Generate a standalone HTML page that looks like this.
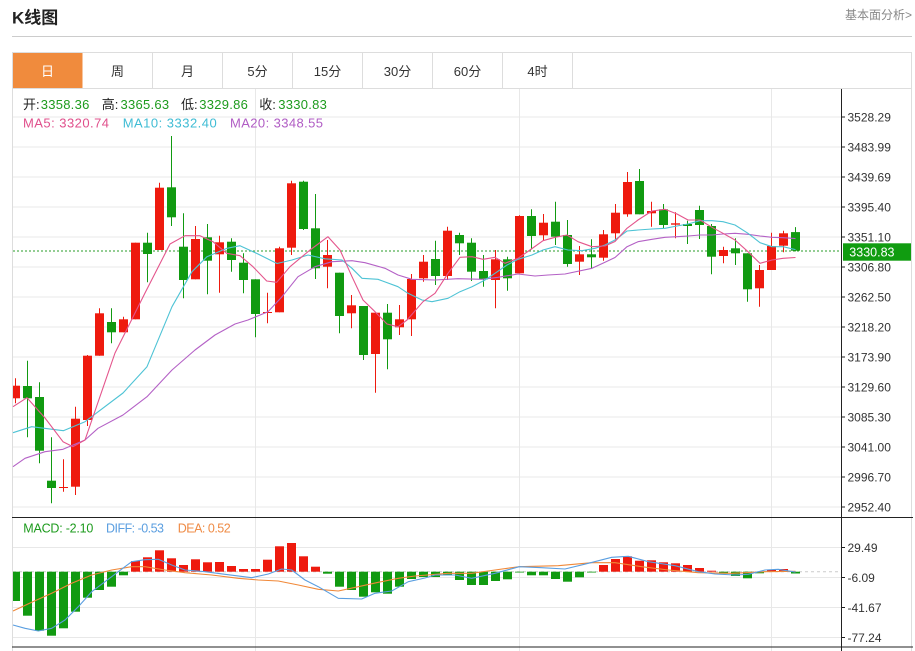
<!DOCTYPE html>
<html><head><meta charset="utf-8"><style>
html,body{margin:0;padding:0;background:#fff;width:915px;height:651px;overflow:hidden}
svg{display:block;font-family:"Liberation Sans","Noto Sans CJK SC",sans-serif}
</style></head><body>
<svg width="915" height="651" viewBox="0 0 915 651" xmlns="http://www.w3.org/2000/svg">
<rect width="915" height="651" fill="#fff"/>
<!-- header -->
<text x="12" y="23.5" font-size="17" font-weight="bold" fill="#222">K线图</text>
<text x="912" y="19" font-size="12" fill="#888" text-anchor="end">基本面分析&gt;</text>
<line x1="12" y1="36.5" x2="912" y2="36.5" stroke="#ccc"/>
<!-- tabs -->
<rect x="12.5" y="52.5" width="899" height="36" fill="#fff" stroke="#ddd"/>
<rect x="13" y="53" width="69.5" height="35" fill="#f08b3d"/>
<g stroke="#ddd">
<line x1="152.5" y1="53" x2="152.5" y2="88"/><line x1="222.5" y1="53" x2="222.5" y2="88"/>
<line x1="292.5" y1="53" x2="292.5" y2="88"/><line x1="362.5" y1="53" x2="362.5" y2="88"/>
<line x1="432.5" y1="53" x2="432.5" y2="88"/><line x1="502.5" y1="53" x2="502.5" y2="88"/>
<line x1="572.5" y1="53" x2="572.5" y2="88"/>
<line x1="12.5" y1="88" x2="12.5" y2="651"/><line x1="911.5" y1="88" x2="911.5" y2="651"/>
</g>
<g font-size="13" text-anchor="middle" fill="#333">
<text x="47.5" y="76" fill="#fff">日</text><text x="117.5" y="76">周</text><text x="187.5" y="76">月</text>
<text x="257.5" y="76">5分</text><text x="327.5" y="76">15分</text><text x="397.5" y="76">30分</text>
<text x="467.5" y="76">60分</text><text x="537.5" y="76">4时</text>
</g>
<!-- grid -->
<g stroke="#e8e8e8">
<line x1="13" y1="117" x2="841" y2="117"/><line x1="13" y1="147" x2="841" y2="147"/>
<line x1="13" y1="177" x2="841" y2="177"/><line x1="13" y1="207" x2="841" y2="207"/>
<line x1="13" y1="237" x2="841" y2="237"/><line x1="13" y1="267" x2="841" y2="267"/>
<line x1="13" y1="297" x2="841" y2="297"/><line x1="13" y1="327" x2="841" y2="327"/>
<line x1="13" y1="357" x2="841" y2="357"/><line x1="13" y1="387" x2="841" y2="387"/>
<line x1="13" y1="417" x2="841" y2="417"/><line x1="13" y1="447" x2="841" y2="447"/>
<line x1="13" y1="477" x2="841" y2="477"/><line x1="13" y1="507" x2="841" y2="507"/>
<line x1="13" y1="547.5" x2="841" y2="547.5"/><line x1="13" y1="577.5" x2="841" y2="577.5"/>
<line x1="13" y1="607.5" x2="841" y2="607.5"/><line x1="13" y1="637.5" x2="841" y2="637.5"/>
<line x1="255.5" y1="89" x2="255.5" y2="651"/><line x1="519.5" y1="89" x2="519.5" y2="651"/>
<line x1="771.5" y1="89" x2="771.5" y2="651"/>
</g>
<!-- price line -->
<line x1="13" y1="251" x2="841" y2="251" stroke="#2a9d2a" stroke-dasharray="2,2"/>
<!-- candles red -->
<g fill="#ee1a0e" stroke="#ee1a0e">
<g stroke-width="1">
<line x1="15.5" y1="378.3" x2="15.5" y2="403.3"/><line x1="63.5" y1="459.3" x2="63.5" y2="491.7"/>
<line x1="75.5" y1="406.7" x2="75.5" y2="495"/><line x1="87.5" y1="355" x2="87.5" y2="426"/>
<line x1="99.5" y1="308.3" x2="99.5" y2="355.7"/><line x1="123.5" y1="316.7" x2="123.5" y2="332.3"/>
<line x1="135.5" y1="242.7" x2="135.5" y2="319.3"/><line x1="159.5" y1="182.7" x2="159.5" y2="250"/>
<line x1="195.5" y1="226" x2="195.5" y2="279.3"/><line x1="219.5" y1="235.7" x2="219.5" y2="292.7"/>
<line x1="267.5" y1="292.7" x2="267.5" y2="323.3"/><line x1="279.5" y1="246.7" x2="279.5" y2="312.3"/>
<line x1="291.5" y1="180.7" x2="291.5" y2="255"/><line x1="327.5" y1="240" x2="327.5" y2="288.3"/>
<line x1="351.5" y1="295" x2="351.5" y2="328.3"/><line x1="375.5" y1="312.7" x2="375.5" y2="392.7"/>
<line x1="399.5" y1="305" x2="399.5" y2="335"/><line x1="411.5" y1="274" x2="411.5" y2="336"/>
<line x1="423.5" y1="255" x2="423.5" y2="281.7"/><line x1="447.5" y1="226.7" x2="447.5" y2="280"/>
<line x1="495.5" y1="250" x2="495.5" y2="308.3"/><line x1="519.5" y1="215.3" x2="519.5" y2="273.3"/>
<line x1="543.5" y1="214" x2="543.5" y2="240.7"/><line x1="579.5" y1="246" x2="579.5" y2="275"/>
<line x1="603.5" y1="230" x2="603.5" y2="260.7"/><line x1="615.5" y1="204" x2="615.5" y2="240.7"/>
<line x1="627.5" y1="172" x2="627.5" y2="216.7"/><line x1="651.5" y1="201.7" x2="651.5" y2="226.7"/>
<line x1="675.5" y1="212.3" x2="675.5" y2="238.3"/><line x1="723.5" y1="246.7" x2="723.5" y2="263.3"/>
<line x1="759.5" y1="265" x2="759.5" y2="306.7"/><line x1="771.5" y1="232.7" x2="771.5" y2="270"/>
<line x1="783.5" y1="230.7" x2="783.5" y2="252.3"/>
</g>
<g stroke="none">
<rect x="13" y="385.7" width="7" height="12.6"/><rect x="59" y="487" width="9" height="1"/>
<rect x="71" y="418.7" width="9" height="68"/><rect x="83" y="355.7" width="9" height="64.3"/>
<rect x="95" y="313.3" width="9" height="42.4"/><rect x="119" y="319.3" width="9" height="13"/>
<rect x="131" y="242.7" width="9" height="76.6"/><rect x="155" y="187.7" width="9" height="62.3"/>
<rect x="191" y="239" width="9" height="40.3"/><rect x="215" y="242.3" width="9" height="12"/>
<rect x="263" y="312" width="9" height="1"/><rect x="275" y="248.3" width="9" height="64"/>
<rect x="287" y="183.3" width="9" height="64.4"/><rect x="323" y="255" width="9" height="11.7"/>
<rect x="347" y="305.3" width="9" height="8"/><rect x="371" y="312.7" width="9" height="41.3"/>
<rect x="395" y="319.3" width="9" height="8"/><rect x="407" y="279" width="9" height="40.3"/>
<rect x="419" y="261.7" width="9" height="16.6"/><rect x="443" y="230.7" width="9" height="45.3"/>
<rect x="491" y="259.3" width="9" height="20.7"/><rect x="515" y="216" width="9" height="57.3"/>
<rect x="539" y="222.7" width="9" height="12.6"/><rect x="575" y="254.3" width="9" height="7.4"/>
<rect x="599" y="234.3" width="9" height="23.4"/><rect x="611" y="212.7" width="9" height="20.6"/>
<rect x="623" y="182" width="9" height="32.3"/><rect x="647" y="211" width="9" height="2.3"/>
<rect x="671" y="223.3" width="9" height="1.4"/><rect x="719" y="250" width="9" height="6"/>
<rect x="755" y="270" width="9" height="18.3"/><rect x="767" y="246" width="9" height="24"/>
<rect x="779" y="233.3" width="9" height="12.4"/>
</g>
</g>
<!-- candles green -->
<g fill="#119a11" stroke="#119a11">
<g>
<line x1="27.5" y1="360.7" x2="27.5" y2="437.3"/><line x1="39.5" y1="382.3" x2="39.5" y2="463.3"/>
<line x1="51.5" y1="437.3" x2="51.5" y2="503.3"/><line x1="111.5" y1="308.3" x2="111.5" y2="343.3"/>
<line x1="147.5" y1="232.7" x2="147.5" y2="282.3"/><line x1="171.5" y1="136" x2="171.5" y2="226"/>
<line x1="183.5" y1="213.3" x2="183.5" y2="298.3"/><line x1="207.5" y1="224" x2="207.5" y2="294.3"/>
<line x1="231.5" y1="238.3" x2="231.5" y2="271.7"/><line x1="243.5" y1="253.3" x2="243.5" y2="293.3"/>
<line x1="255.5" y1="279.3" x2="255.5" y2="337.3"/><line x1="303.5" y1="180.7" x2="303.5" y2="230"/>
<line x1="315.5" y1="194" x2="315.5" y2="279"/><line x1="339.5" y1="272.7" x2="339.5" y2="333.3"/>
<line x1="363.5" y1="306" x2="363.5" y2="360"/><line x1="387.5" y1="304" x2="387.5" y2="369.3"/>
<line x1="435.5" y1="240.7" x2="435.5" y2="285"/><line x1="459.5" y1="232.7" x2="459.5" y2="255"/>
<line x1="471.5" y1="238.3" x2="471.5" y2="281"/><line x1="483.5" y1="255" x2="483.5" y2="286.7"/>
<line x1="507.5" y1="256.7" x2="507.5" y2="290.7"/><line x1="531.5" y1="209.3" x2="531.5" y2="248.7"/>
<line x1="555.5" y1="201.7" x2="555.5" y2="245"/><line x1="567.5" y1="220" x2="567.5" y2="266.7"/>
<line x1="591.5" y1="239.3" x2="591.5" y2="268.3"/><line x1="639.5" y1="169" x2="639.5" y2="214.3"/>
<line x1="663.5" y1="204" x2="663.5" y2="228.3"/><line x1="687.5" y1="220.7" x2="687.5" y2="244"/>
<line x1="699.5" y1="205.7" x2="699.5" y2="239"/><line x1="711.5" y1="224" x2="711.5" y2="274.3"/>
<line x1="735.5" y1="238.3" x2="735.5" y2="265"/><line x1="747.5" y1="253.3" x2="747.5" y2="301.7"/>
<line x1="795.5" y1="227.1" x2="795.5" y2="251.4"/>
</g>
<g stroke="none">
<rect x="23" y="386" width="9" height="12.3"/><rect x="35" y="397" width="9" height="53.7"/>
<rect x="47" y="480.7" width="9" height="7.3"/><rect x="107" y="322" width="9" height="10.3"/>
<rect x="143" y="242.7" width="9" height="11.3"/><rect x="167" y="187.3" width="9" height="30"/>
<rect x="179" y="246.7" width="9" height="33.3"/><rect x="203" y="237.3" width="9" height="23.4"/>
<rect x="227" y="241.7" width="9" height="18.3"/><rect x="239" y="262.7" width="9" height="17.3"/>
<rect x="251" y="279.3" width="9" height="34.7"/><rect x="299" y="181.7" width="9" height="47.3"/>
<rect x="311" y="228.3" width="9" height="40"/><rect x="335" y="272.7" width="9" height="43.3"/>
<rect x="359" y="306" width="9" height="49"/><rect x="383" y="312.7" width="9" height="26.6"/>
<rect x="431" y="259" width="9" height="17"/><rect x="455" y="235" width="9" height="8.3"/>
<rect x="467" y="242.7" width="9" height="29"/><rect x="479" y="271" width="9" height="8.3"/>
<rect x="503" y="259.3" width="9" height="19"/><rect x="527" y="216" width="9" height="20"/>
<rect x="551" y="221.7" width="9" height="15"/><rect x="563" y="235" width="9" height="29"/>
<rect x="587" y="254.3" width="9" height="3"/><rect x="635" y="181" width="9" height="33.3"/>
<rect x="659" y="209.3" width="9" height="15.7"/><rect x="683" y="224" width="9" height="2"/>
<rect x="695" y="210" width="9" height="15"/><rect x="707" y="226" width="9" height="30.7"/>
<rect x="731" y="248.3" width="9" height="5"/><rect x="743" y="253.3" width="9" height="36"/>
<rect x="791" y="232.1" width="9" height="18.6"/>
</g>
</g>
<!-- MA lines -->
<g fill="none" stroke-width="1.1" stroke-linejoin="round">
<polyline stroke="#b461c6" points="13,466.7 25,458.3 45,451.7 63,449.3 85,440 98,428.3 123,415 147,396.7 172,370 195,350 215,335 235,324 248,320 268,311.7 282,296.7 298,276.7 315,266.7 332,261.7 352,260.7 365,262.7 385,268.3 398,275 412,279.3 435,280 458,278.7 482,279.3 498,277.3 518,274 535,276 548,275 565,274 592,268.3 605,262.2 615,257.5 627,246.7 638,241.7 652,239.3 665,237.3 677,236.7 688,236 700,235 712,235 723,234 735,233.3 748,234.3 760,236 772,237.3 783,237.7 795.5,238.6"/>
<polyline stroke="#4ec3d5" points="13,432.7 31.7,426.7 63.3,430.7 85,421.7 123,393 147,366.7 172,306.7 192,271.7 207,256.7 227,248.3 240,245.7 258,254 277,263.5 292,260 308,255 325,258.8 342,260 352,268.3 362,278.3 378,279.3 398,286.7 408,293.3 422,300 432,301.7 448,298.3 460,291.7 472,286.7 485,280 495,273.3 507,265 518,259.3 532,255 543,250 555,246.7 568,250 582,250.7 595,248.3 605,245 615,240 627,231 638,230 652,229 665,228.3 677,226 688,224 700,220.7 712,220.7 723,221.7 735,225 748,233.3 760,242.7 772,246.7 783,246.7 795.5,249.6"/>
<polyline stroke="#e4558c" points="13,406.7 27,397.7 45,418 63,441.7 73,446.7 85,440 115,353 145,293 170,244 185,235.7 200,235.7 213,241.7 226.7,253.3 240,255.7 253,266.7 266.7,281 276.7,282.3 290,266.7 310,250 328,236.7 340,250 352,276.7 363,300 375,311.7 387,324 398,326.7 407,320 423,301.7 435,293.3 448,273.3 460,257.3 472,256.7 483,259.3 495,257.3 505,263.3 518,258.3 530,250 543,240.7 555,237.3 567,235 578,241.7 592,246.7 605,246 615,241.5 627,228.3 638,220 652,211 665,209.3 677,214 688,220 700,220 712,227.3 723,233.3 735,240 748,251.7 760,263.3 772,260 783,258.3 795.5,257.5"/>
</g>
<!-- legend -->
<g font-size="13">
<text x="23" y="109" fill="#222">开:</text><text x="40.7" y="109" fill="#1d9b1d" textLength="48.6">3358.36</text>
<text x="101.7" y="109" fill="#222">高:</text><text x="120.5" y="109" fill="#1d9b1d" textLength="48.6">3365.63</text>
<text x="181" y="109" fill="#222">低:</text><text x="199.3" y="109" fill="#1d9b1d" textLength="48.6">3329.86</text>
<text x="259.3" y="109" fill="#222">收:</text><text x="278.3" y="109" fill="#1d9b1d" textLength="48.6">3330.83</text>
<text x="23" y="127.5" fill="#e0508c" textLength="86">MA5: 3320.74</text>
<text x="122.7" y="127.5" fill="#3fbcd4" textLength="94">MA10: 3332.40</text>
<text x="230" y="127.5" fill="#b05cc4" textLength="93">MA20: 3348.55</text>
</g>
<!-- MACD zero -->
<line x1="13" y1="571.7" x2="841" y2="571.7" stroke="#ccc" stroke-dasharray="3,3"/>
<!-- MACD bars -->
<g fill="#119a11">
<rect x="13" y="571.7" width="7" height="29.3"/><rect x="23" y="571.7" width="9" height="44"/>
<rect x="35" y="571.7" width="9" height="59"/><rect x="47" y="571.7" width="9" height="64"/>
<rect x="59" y="571.7" width="9" height="56.6"/><rect x="71" y="571.7" width="9" height="40"/>
<rect x="83" y="571.7" width="9" height="26"/><rect x="95" y="571.7" width="9" height="18.3"/>
<rect x="107" y="571.7" width="9" height="15"/><rect x="119" y="571.7" width="9" height="3.6"/>
<rect x="323" y="571.7" width="9" height="2"/><rect x="335" y="571.7" width="9" height="15"/>
<rect x="347" y="571.7" width="9" height="18.3"/><rect x="359" y="571.7" width="9" height="25"/>
<rect x="371" y="571.7" width="9" height="20.6"/><rect x="383" y="571.7" width="9" height="22"/>
<rect x="395" y="571.7" width="9" height="15"/><rect x="407" y="571.7" width="9" height="7.3"/>
<rect x="419" y="571.7" width="9" height="5.3"/><rect x="431" y="571.7" width="9" height="5.3"/>
<rect x="443" y="571.7" width="9" height="3.3"/><rect x="455" y="571.7" width="9" height="8.3"/>
<rect x="467" y="571.7" width="9" height="13.3"/><rect x="479" y="571.7" width="9" height="13.3"/>
<rect x="491" y="571.7" width="9" height="9.3"/><rect x="503" y="571.7" width="9" height="7.6"/>
<rect x="515" y="571.7" width="9" height="0.8"/><rect x="527" y="571.7" width="9" height="3.6"/>
<rect x="539" y="571.7" width="9" height="3.6"/><rect x="551" y="571.7" width="9" height="7.3"/>
<rect x="563" y="571.7" width="9" height="10"/><rect x="575" y="571.7" width="9" height="5.6"/>
<rect x="587" y="571.7" width="9" height="0.8"/><rect x="719" y="571.7" width="9" height="2"/>
<rect x="731" y="571.7" width="9" height="4.3"/><rect x="743" y="571.7" width="9" height="6.6"/>
<rect x="755" y="571.7" width="9" height="1.6"/><rect x="791" y="571.7" width="9" height="1.8"/>
</g>
<g fill="#ee1a0e">
<rect x="131" y="561" width="9" height="10.7"/><rect x="143" y="557.3" width="9" height="14.4"/>
<rect x="155" y="550.3" width="9" height="21.4"/><rect x="167" y="558.3" width="9" height="13.4"/>
<rect x="179" y="565" width="9" height="6.7"/><rect x="191" y="559.3" width="9" height="12.4"/>
<rect x="203" y="562.3" width="9" height="9.4"/><rect x="215" y="562" width="9" height="9.7"/>
<rect x="227" y="566" width="9" height="5.7"/><rect x="239" y="569" width="9" height="2.7"/>
<rect x="251" y="569" width="9" height="2.7"/><rect x="263" y="559.7" width="9" height="12"/>
<rect x="275" y="546.3" width="9" height="25.4"/><rect x="287" y="543" width="9" height="28.7"/>
<rect x="299" y="556.3" width="9" height="15.4"/><rect x="311" y="566.7" width="9" height="5"/>
<rect x="599" y="565" width="9" height="6.7"/><rect x="611" y="559" width="9" height="12.7"/>
<rect x="623" y="556.3" width="9" height="15.4"/><rect x="635" y="560.7" width="9" height="11"/>
<rect x="647" y="560.3" width="9" height="11.4"/><rect x="659" y="562.3" width="9" height="9.4"/>
<rect x="671" y="563.3" width="9" height="8.4"/><rect x="683" y="565" width="9" height="6.7"/>
<rect x="695" y="568" width="9" height="3.7"/><rect x="707" y="570.7" width="9" height="1"/>
<rect x="767" y="569.7" width="9" height="2"/><rect x="779" y="569" width="9" height="2.7"/>
</g>
<!-- DIFF / DEA -->
<g fill="none" stroke-width="1.1" stroke-linejoin="round">
<polyline stroke="#f08838" points="13,611 31.7,602.3 51.7,593.3 71.7,583.3 91.7,575 111.7,570 131.7,566.7 145,566.7 165,570 185,572.7 211.7,575 238.3,578.3 258.3,580 278.3,581 298.3,585 318.3,589.3 338.3,591 358.3,586.7 378.3,582.3 398.3,578.3 415,576 448,573.3 471.7,573.3 495,570 519.3,566.7 558.3,565.7 591.7,562.7 615,562.7 641.7,566.7 668.3,570 698.3,572.7 731.7,573.3 765,571.7 795.5,571.3"/>
<polyline stroke="#5a9ee0" points="13,625 25,628.3 38.3,631 51.7,628.3 65,620 78.3,606.7 91.7,591.7 105,581.7 118.3,571.7 131.7,561.7 145,559.7 158.3,559.3 171.7,565 185,570 205,571.7 225,574.3 251.7,577.7 268.3,574 281.7,569 291.7,570 305,580 318.3,586.7 338.3,598.3 361.7,599 375,593.3 391.7,591 408.3,581.7 425,578 435,575 455,575 471.7,578.3 495,573.3 519.3,566.7 541.7,567.7 565,569 588.3,563.3 611.7,557.3 628.3,556.3 648.3,561.7 675,565.7 698.3,571.7 715,574 735,575 748.3,574.3 765,570 778.3,569.3 795.5,572.1"/>
</g>
<g font-size="12.5">
<text x="23.3" y="532.7" fill="#1d9b1d" textLength="70">MACD: -2.10</text>
<text x="106" y="532.7" fill="#5a9ee0" textLength="58">DIFF: -0.53</text>
<text x="177.7" y="532.7" fill="#ef8b45" textLength="53">DEA: 0.52</text>
</g>
<!-- frame lines -->
<line x1="12" y1="517.5" x2="913" y2="517.5" stroke="#222"/>
<line x1="12" y1="647" x2="913" y2="647" stroke="#222"/>
<line x1="841.5" y1="89" x2="841.5" y2="651" stroke="#222"/>
<!-- axis ticks -->
<g stroke="#222">
<line x1="841.5" y1="117" x2="845" y2="117"/><line x1="841.5" y1="147" x2="845" y2="147"/>
<line x1="841.5" y1="177" x2="845" y2="177"/><line x1="841.5" y1="207" x2="845" y2="207"/>
<line x1="841.5" y1="237" x2="845" y2="237"/><line x1="841.5" y1="267" x2="845" y2="267"/>
<line x1="841.5" y1="297" x2="845" y2="297"/><line x1="841.5" y1="327" x2="845" y2="327"/>
<line x1="841.5" y1="357" x2="845" y2="357"/><line x1="841.5" y1="387" x2="845" y2="387"/>
<line x1="841.5" y1="417" x2="845" y2="417"/><line x1="841.5" y1="447" x2="845" y2="447"/>
<line x1="841.5" y1="477" x2="845" y2="477"/><line x1="841.5" y1="507" x2="845" y2="507"/>
<line x1="841.5" y1="547.5" x2="845" y2="547.5"/><line x1="841.5" y1="577.5" x2="845" y2="577.5"/>
<line x1="841.5" y1="607.5" x2="845" y2="607.5"/><line x1="841.5" y1="637.5" x2="845" y2="637.5"/>
</g>
<g font-size="12" fill="#333">
<text x="847.5" y="121.3">3528.29</text><text x="847.5" y="151.3">3483.99</text>
<text x="847.5" y="181.3">3439.69</text><text x="847.5" y="211.3">3395.40</text>
<text x="847.5" y="241.3">3351.10</text><text x="847.5" y="271.3">3306.80</text>
<text x="847.5" y="301.3">3262.50</text><text x="847.5" y="331.3">3218.20</text>
<text x="847.5" y="361.3">3173.90</text><text x="847.5" y="391.3">3129.60</text>
<text x="847.5" y="421.3">3085.30</text><text x="847.5" y="451.3">3041.00</text>
<text x="847.5" y="481.3">2996.70</text><text x="847.5" y="511.3">2952.40</text>
<text x="847.5" y="551.8">29.49</text><text x="847.5" y="581.8">-6.09</text>
<text x="847.5" y="611.8">-41.67</text><text x="847.5" y="641.8">-77.24</text>
</g>
<!-- current price tag -->
<rect x="843" y="243.3" width="68" height="17.4" fill="#109c10"/>
<text x="849.3" y="256.4" font-size="12.5" fill="#fff">3330.83</text>
</svg>
</body></html>
